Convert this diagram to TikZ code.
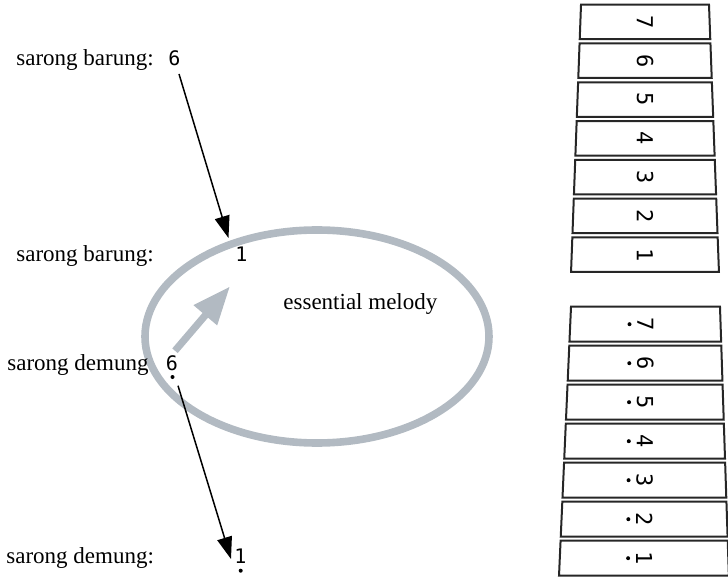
\documentclass[tikz,border=0pt]{standalone}
\usepackage{fontspec}
\setmainfont{Liberation Serif}
\newfontfamily\numfont{DejaVu Sans Mono}
\usepackage{xcolor}
\usepackage{tikz}
\usetikzlibrary{arrows.meta}

\definecolor{ringgray}{RGB}{178,186,194}

\tikzset{
    lbl/.style={anchor=base west, inner sep=0pt, font=\fontsize{11.5}{13.8}\selectfont},
    tone/.style={anchor=base, inner sep=0pt, font=\numfont\fontsize{10}{11.2}\selectfont},
    key/.style={rotate=-90, inner sep=0pt, font=\numfont\fontsize{11}{11.6}\selectfont},
    lowdot/.style={circle, fill=black, inner sep=0pt, minimum size=2pt},
    fall/.style={line width=0.75pt, -{Triangle[length=11pt,width=7.5pt]}},
    rise/.style={ringgray, line width=3.6pt, -{Triangle[length=19pt,width=14.5pt]}},
    ring/.style={draw=ringgray, line width=3.8pt},
    bar/.style={draw=black!85, line width=1pt}
}

\begin{document}
\begin{tikzpicture}[x=0.5pt, y=-0.5pt]
            \useasboundingbox (0,0) rectangle (728,577);

            \draw[ring] (317,336.5) ellipse [x radius=172, y radius=106.5];
            \node[lbl] (em) at (283,309) {essential melody};

            \node[lbl] (0) at (16,66) {sarong barung:};
            \node[lbl] (1) at (16,262) {sarong barung:};
            \node[lbl] (2) at (7,370) {sarong demung};
            \node[lbl] (3) at (6,563) {sarong demung:};

            \node[tone] (sb6) at (174.5,66) {6};
            \node[tone] (sb1) at (241.5,262) {1};
            \node[tone] (sd6) at (172,370) {6};
            \node[tone] (sd1) at (240.5,563) {1};
            \node[lowdot] (sd6d) at ([shift={(0.5,7)}]sd6.base) {};
            \node[lowdot] (sd1d) at ([shift={(0.2,7.7)}]sd1.base) {};

            \draw[fall] ([shift={(4.5,7.3)}]sb6.south) -- ([shift={(-13,-9)}]sb1.north);
            \draw[fall] ([shift={(6,15)}]sd6.south) -- ([shift={(-9.5,11)}]sd1.north);
            \draw[rise] ([shift={(3,-4)}]sd6.north) -- ([shift={(-11.5,24)}]sb1.south);

            \foreach \d [count=\k from 0] in {7,6,5,4,3,2,1} {
                \pgfmathsetmacro\ytop{4.7+38.8*\k}
                \pgfmathsetmacro\ybot{\ytop+34.5}
                \draw[bar] ({581-0.0373*(\ytop-5)},\ytop) -- ({709+0.0373*(\ytop-5)},\ytop)
                    -- ({709+0.0373*(\ybot-5)},\ybot) -- ({581-0.0373*(\ybot-5)},\ybot) -- cycle;
                \node[key] (u\d) at (645,{\ytop+17.25}) {\d};
            }

            \foreach \d [count=\k from 0] in {7,6,5,4,3,2,1} {
                \pgfmathsetmacro\ytop{306.7+39*\k}
                \pgfmathsetmacro\ybot{\ytop+35}
                \draw[bar] ({571-0.0446*(\ytop-307)},\ytop) -- ({720+0.033*(\ytop-307)},\ytop)
                    -- ({720+0.033*(\ybot-307)},\ybot) -- ({571-0.0446*(\ybot-307)},\ybot) -- cycle;
                \node[key] (l\d) at ({645.5-0.006*(\ytop-307)},{\ytop+17.5}) {\d};
                \node[lowdot] (l\d d) at ([shift={(-16,0)}]l\d.center) {};
            }
        \end{tikzpicture}
\end{document}
